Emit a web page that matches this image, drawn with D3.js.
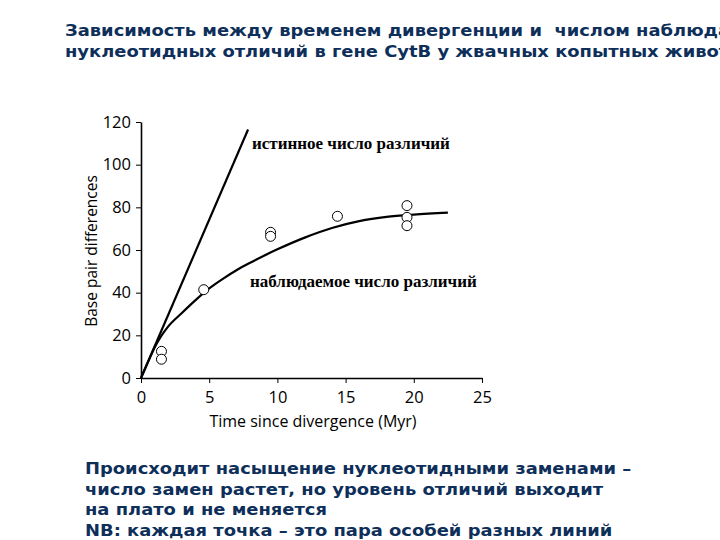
<!DOCTYPE html>
<html>
<head>
<meta charset="utf-8">
<script src="https://cdn.jsdelivr.net/npm/d3@7"></script>
<style>
  body { margin: 0; background: #fff; }
  svg { display: block; }
</style>
</head>
<body>
<svg id="vis" width="720" height="540"></svg>
<script>
// data
const titleLines = [
  'Зависимость между временем дивергенции и  числом наблюдаемых',
  'нуклеотидных отличий в гене CytB у жвачных копытных животных'
];
const noteLines = [
  'Происходит насыщение нуклеотидными заменами –',
  'число замен растет, но уровень отличий выходит',
  'на плато и не меняется',
  'NB: каждая точка – это пара особей разных линий'
];
const xTicks = [0, 5, 10, 15, 20, 25];
const yTicks = [0, 20, 40, 60, 80, 100, 120];

// observed pairs (time, differences)
const pointTime = [1.5, 1.5, 4.6, 9.5, 9.5, 14.4, 19.5, 19.5, 19.5];
const pointDiff = [12.5, 8.8, 41.4, 68.3, 66.4, 75.8, 80.8, 75.3, 71.4];

// true number of differences (straight line)
const trueTime = [0, 7.85];
const trueDiff = [0, 116.5];

// observed saturation curve
const curveTime = [0, 0.5, 1, 1.5, 2, 3, 4, 5, 6, 7, 8, 10, 12, 14, 16, 18, 20, 22.5];
const curveDiff = [0, 7.3, 14.3, 19.8, 24.2, 30.5, 36.5, 42, 46.5, 50.5, 54, 60.3, 65.8, 70.3, 73.5, 75.5, 76.6, 77.5];

const svg = d3.select('#vis');
const blue = '#0e2f5a';

const x = d3.scaleLinear().domain([0, 25]).range([141, 482]);
const y = d3.scaleLinear().domain([0, 120]).range([378, 122]);

// title (the original font is a bit wider, so stretch it)
svg.append('g').selectAll('text')
  .data(titleLines)
  .enter().append('text')
  .attr('transform', (d, i) => `translate(65, ${36 + i * 21}) scale(1.12, 1)`)
  .text(d => d)
  .style('white-space', 'pre')
  .style('font-family', 'DejaVu Sans')
  .style('font-weight', 'bold')
  .style('font-size', '16px')
  .style('fill', blue);

// axes
const xAxis = svg.append('g')
  .attr('transform', `translate(0, ${y(0)})`)
  .call(d3.axisBottom(x).tickValues(xTicks).tickSize(5).tickSizeOuter(0).tickPadding(8));
const yAxis = svg.append('g')
  .attr('transform', `translate(${x(0)}, 0)`)
  .call(d3.axisLeft(y).tickValues(yTicks).tickSize(5).tickSizeOuter(0).tickPadding(5));

[xAxis, yAxis].forEach(g => {
  g.select('.domain').attr('stroke', '#000').attr('stroke-width', 1.6);
  g.selectAll('.tick line').attr('stroke', '#000').attr('stroke-width', 1);
  g.selectAll('.tick text')
    .style('font-family', 'Open Sans')
    .style('font-size', '16.5px')
    .style('fill', '#000');
});

svg.append('text')
  .attr('x', 313)
  .attr('y', 427)
  .attr('text-anchor', 'middle')
  .text('Time since divergence (Myr)')
  .style('font-family', 'Open Sans')
  .style('font-size', '16px');

svg.append('text')
  .attr('transform', 'translate(97, 251) rotate(-90)')
  .attr('text-anchor', 'middle')
  .text('Base pair differences')
  .style('font-family', 'Open Sans')
  .style('font-size', '15.5px');

// lines
const line = d3.line()
  .x(d => x(d[0]))
  .y(d => y(d[1]));

svg.append('path')
  .attr('d', line(d3.zip(trueTime, trueDiff)))
  .attr('fill', 'none')
  .attr('stroke', '#000')
  .attr('stroke-width', 2.2);

svg.append('path')
  .attr('d', line.curve(d3.curveMonotoneX)(d3.zip(curveTime, curveDiff)))
  .attr('fill', 'none')
  .attr('stroke', '#000')
  .attr('stroke-width', 2.2);

// points
svg.append('g').selectAll('circle')
  .data(d3.zip(pointTime, pointDiff))
  .enter().append('circle')
  .attr('cx', d => x(d[0]))
  .attr('cy', d => y(d[1]))
  .attr('r', 5)
  .attr('fill', '#fff')
  .attr('stroke', '#000')
  .attr('stroke-width', 1);

// in-chart labels
svg.append('text')
  .attr('x', 252)
  .attr('y', 149)
  .text('истинное число различий')
  .style('font-family', 'Liberation Serif')
  .style('font-weight', 'bold')
  .style('font-size', '17px');

svg.append('text')
  .attr('x', 250)
  .attr('y', 287)
  .text('наблюдаемое число различий')
  .style('font-family', 'Liberation Serif')
  .style('font-weight', 'bold')
  .style('font-size', '17px');

// bottom note
svg.append('g').selectAll('text')
  .data(noteLines)
  .enter().append('text')
  .attr('transform', (d, i) => `translate(85, ${474 + i * 20.7}) scale(1.12, 1)`)
  .text(d => d)
  .style('font-family', 'DejaVu Sans')
  .style('font-weight', 'bold')
  .style('font-size', '16px')
  .style('fill', blue);
</script>
</body>
</html>
